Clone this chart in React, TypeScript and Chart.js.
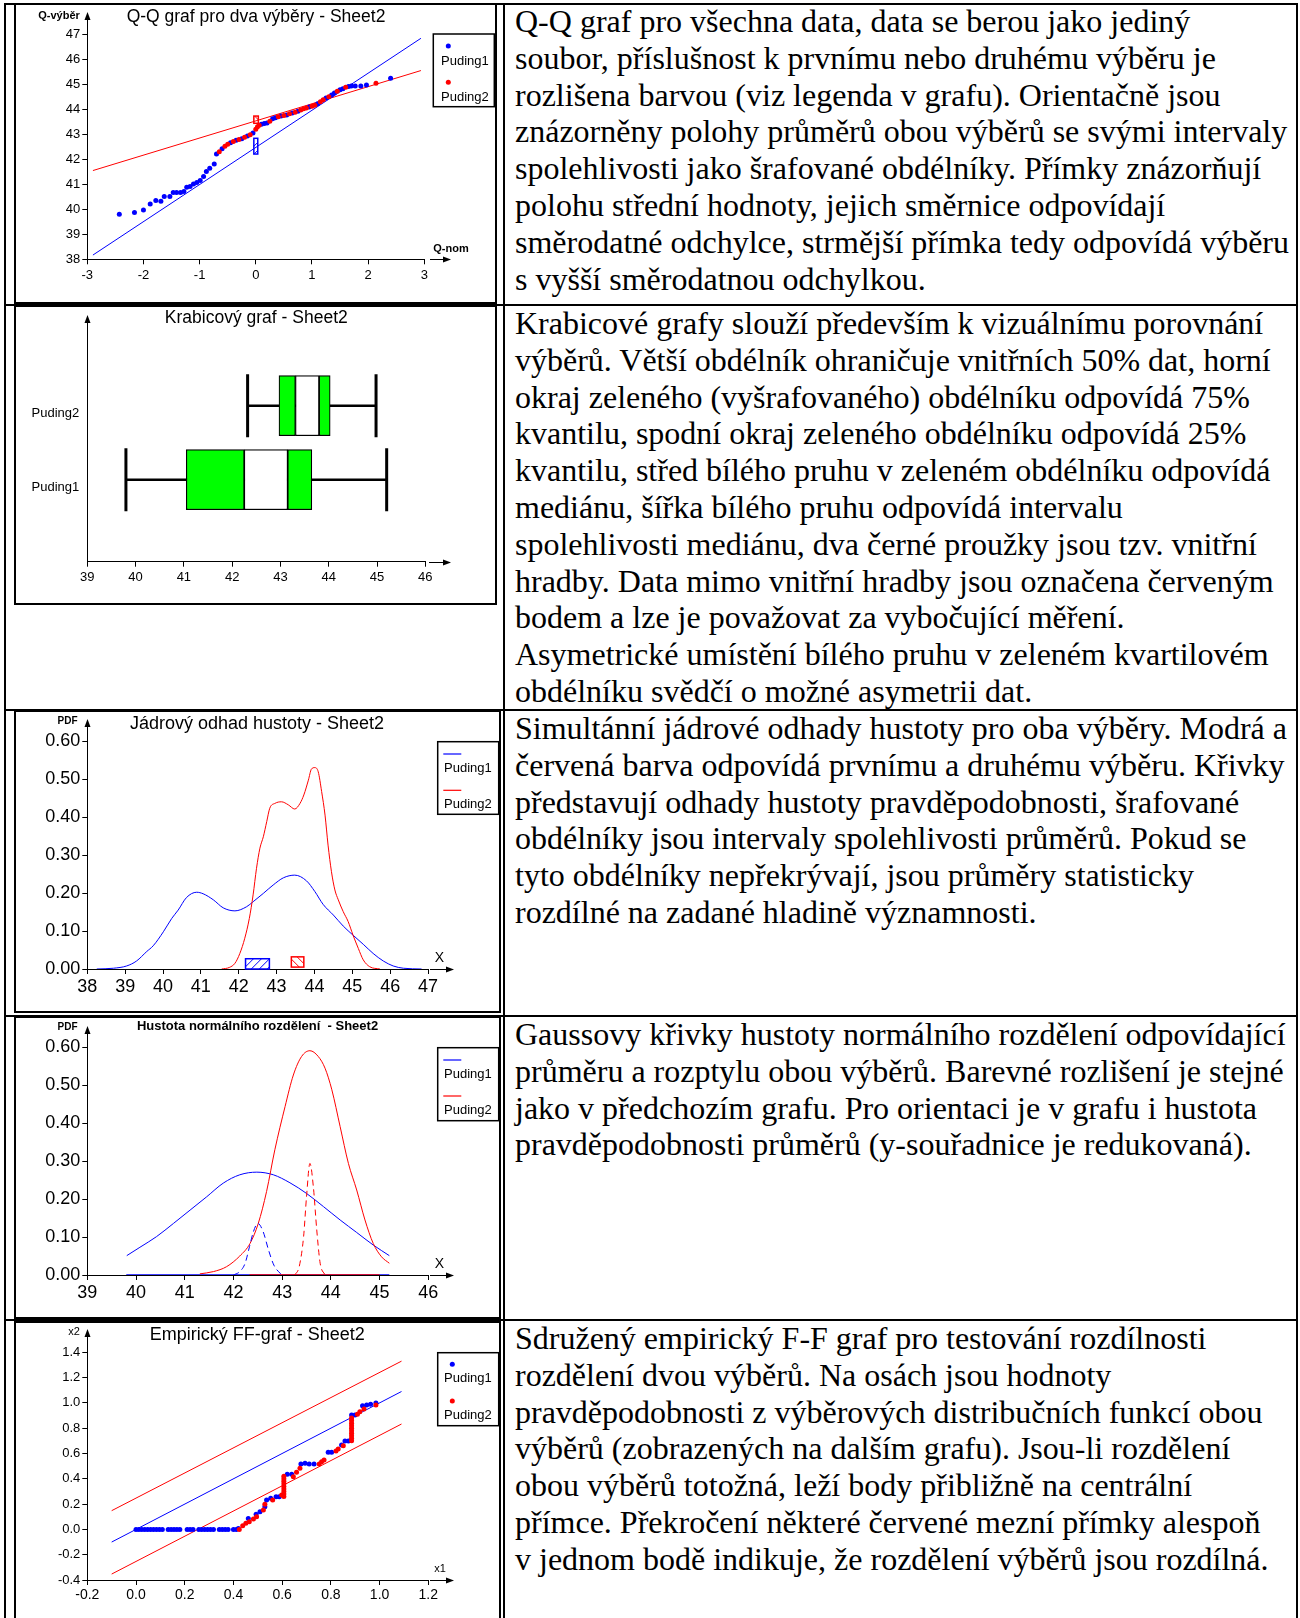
import React, { useEffect, useRef } from "react";
import { Chart, registerables } from "chart.js";

Chart.register(...registerables);

const SANS = "'Liberation Sans', Arial, Helvetica, sans-serif";
const SERIF = "'Liberation Serif', 'Times New Roman', Times, serif";
const BLUE = "#0000ff";
const RED = "#ff0000";
const GREEN = "#00ff00";

const seriesNames = ["Puding1", "Puding2"];

// ---------- Q-Q plot ----------
const qqNorm1 = [-2.43, -2.16, -2.0, -1.88, -1.78, -1.69, -1.63, -1.53, -1.47, -1.41, -1.34, -1.28, -1.23, -1.17, -1.11, -1.05, -0.99, -0.93, -0.88, -0.82, -0.74, -0.7, -0.6, -0.45, -0.35, -0.25, -0.15, -0.05, 0.1, 0.15, 0.2, 0.3, 0.35, 0.45, 0.55, 0.65, 0.75, 0.95, 1.1, 1.25, 1.35, 1.4, 1.5, 1.55, 1.65, 1.7, 1.77, 1.87, 1.97, 2.4];
const qqVal1 = [39.8, 39.87, 39.97, 40.21, 40.35, 40.32, 40.51, 40.51, 40.67, 40.67, 40.67, 40.71, 40.88, 40.91, 41.01, 41.07, 41.15, 41.31, 41.51, 41.64, 41.81, 42.21, 42.42, 42.66, 42.76, 42.82, 42.93, 43.05, 43.4, 43.43, 43.45, 43.62, 43.66, 43.73, 43.77, 43.85, 43.92, 44.09, 44.22, 44.45, 44.57, 44.65, 44.78, 44.82, 44.91, 44.93, 44.93, 44.93, 44.97, 45.24];
const qqNorm2 = [-0.65, -0.55, -0.5, -0.4, -0.3, -0.2, -0.1, 0.0, 0.03, 0.06, 0.25, 0.4, 0.5, 0.6, 0.7, 0.8, 0.85, 0.9, 1.0, 1.05, 1.15, 1.2, 1.3, 1.45, 1.6, 2.14];
const qqVal2 = [42.3, 42.52, 42.6, 42.71, 42.79, 42.88, 42.98, 43.2, 43.3, 43.36, 43.52, 43.7, 43.75, 43.82, 43.88, 43.97, 44.02, 44.05, 44.12, 44.16, 44.3, 44.38, 44.5, 44.72, 44.88, 45.04];
const qqLineX = [-2.9, 2.94];
const qqLine1Y = [38.17, 46.84];
const qqLine2Y = [41.55, 45.55];
const meanCI1 = [42.21, 42.84];
const meanCI2 = [43.44, 43.73];
const qqTicksX = [-3, 3];
const qqTicksY = [38, 47];

// ---------- Box plot ----------
const boxPos = [1, 2];
const whiskerLow = [39.8, 42.32];
const quart1 = [41.05, 42.97];
const medCILow = [42.25, 43.31];
const medCIHigh = [43.15, 43.8];
const quart3 = [43.65, 44.03];
const whiskerHigh = [45.2, 44.98];
const boxTicksX = [39, 46];

// ---------- Kernel density ----------
const kde1X = [38.25, 38.69, 39.04, 39.3, 39.57, 39.74, 40.01, 40.23, 40.4, 40.62, 40.89, 41.06, 41.33, 41.59, 41.9, 42.21, 42.38, 42.65, 42.91, 43.18, 43.48, 43.79, 44.01, 44.23, 44.5, 44.76, 45.02, 45.29, 45.55, 45.82, 46.08, 46.35, 46.83];
const kde1Y = [0, 0.002, 0.008, 0.021, 0.046, 0.061, 0.098, 0.133, 0.155, 0.188, 0.202, 0.198, 0.182, 0.161, 0.153, 0.164, 0.177, 0.199, 0.221, 0.24, 0.247, 0.232, 0.204, 0.17, 0.142, 0.113, 0.089, 0.065, 0.041, 0.021, 0.008, 0.002, 0];
const kde2X = [41.55, 41.75, 41.9, 42.03, 42.16, 42.28, 42.38, 42.47, 42.56, 42.65, 42.74, 42.82, 42.96, 43.13, 43.31, 43.48, 43.62, 43.72, 43.84, 43.92, 44.01, 44.1, 44.19, 44.28, 44.36, 44.45, 44.54, 44.63, 44.76, 44.89, 45.02, 45.16, 45.29, 45.46, 45.73];
const kde2Y = [0, 0.004, 0.015, 0.041, 0.081, 0.133, 0.195, 0.265, 0.318, 0.348, 0.388, 0.423, 0.436, 0.44, 0.432, 0.421, 0.436, 0.458, 0.497, 0.526, 0.53, 0.519, 0.467, 0.405, 0.326, 0.256, 0.208, 0.182, 0.151, 0.125, 0.089, 0.054, 0.024, 0.006, 0];
const kdeCI1 = [42.18, 42.81];
const kdeCI2 = [43.39, 43.72];
const kdeTicksX = [38, 47];
const pdfTicksY = [0, 0.6];

// ---------- Normal density ----------
const norm1X = [39.81, 40.08, 40.42, 40.77, 41.11, 41.45, 41.79, 42.13, 42.48, 42.82, 43.16, 43.5, 43.85, 44.19, 44.53, 44.87, 45.2];
const norm1Y = [0.051, 0.073, 0.101, 0.136, 0.171, 0.206, 0.242, 0.264, 0.271, 0.264, 0.243, 0.215, 0.18, 0.145, 0.112, 0.079, 0.051];
const norm2X = [41.31, 41.59, 41.86, 42.13, 42.34, 42.51, 42.68, 42.85, 43.06, 43.23, 43.4, 43.57, 43.74, 43.88, 44.02, 44.19, 44.36, 44.53, 44.7, 44.87, 45.04, 45.2];
const norm2Y = [0.003, 0.009, 0.022, 0.05, 0.083, 0.136, 0.22, 0.33, 0.444, 0.527, 0.576, 0.591, 0.576, 0.545, 0.488, 0.391, 0.294, 0.224, 0.145, 0.083, 0.048, 0.031];
const mean1X = [42.0, 42.13, 42.24, 42.33, 42.41, 42.5, 42.61, 42.72, 42.83, 42.99];
const mean1Y = [0, 0.009, 0.031, 0.075, 0.114, 0.136, 0.114, 0.066, 0.026, 0];
const mean2X = [43.26, 43.35, 43.44, 43.5, 43.57, 43.64, 43.71, 43.78, 43.88];
const mean2Y = [0, 0.022, 0.101, 0.206, 0.294, 0.233, 0.119, 0.031, 0];
const zero1X = [39.8, 45.2];
const zero2X = [42.33, 45.0];
const normTicksX = [39, 46];

// ---------- F-F plot ----------
const ff1X = [0, 0.012, 0.024, 0.036, 0.048, 0.06, 0.072, 0.084, 0.096, 0.108, 0.132, 0.144, 0.156, 0.168, 0.18, 0.21, 0.222, 0.234, 0.258, 0.27, 0.282, 0.294, 0.306, 0.318, 0.342, 0.354, 0.366, 0.378, 0.4, 0.412, 0.42, 0.461, 0.493, 0.509, 0.529, 0.536, 0.553, 0.575, 0.588, 0.621, 0.639, 0.677, 0.694, 0.711, 0.731, 0.789, 0.803, 0.844, 0.858, 0.872, 0.885, 0.899, 0.93, 0.947, 0.963, 0.985];
const ff1Y = [0, 0, 0, 0, 0, 0, 0, 0, 0, 0, 0, 0, 0, 0, 0, 0, 0, 0, 0, 0, 0, 0, 0, 0, 0, 0, 0, 0, 0, 0, 0.008, 0.087, 0.119, 0.14, 0.18, 0.232, 0.246, 0.259, 0.259, 0.435, 0.435, 0.517, 0.522, 0.517, 0.517, 0.609, 0.609, 0.667, 0.699, 0.699, 0.904, 0.904, 0.978, 0.984, 0.989, 1.0];
const ff2X = [0.424, 0.438, 0.451, 0.465, 0.482, 0.495, 0.523, 0.529, 0.561, 0.598, 0.607, 0.607, 0.607, 0.607, 0.607, 0.607, 0.607, 0.607, 0.607, 0.646, 0.659, 0.673, 0.752, 0.762, 0.772, 0.821, 0.83, 0.851, 0.885, 0.885, 0.885, 0.885, 0.885, 0.885, 0.885, 0.885, 0.885, 0.885, 0.909, 0.919, 0.936, 0.985];
const ff2Y = [0, 0.029, 0.048, 0.061, 0.082, 0.1, 0.153, 0.198, 0.232, 0.272, 0.26, 0.28, 0.3, 0.32, 0.34, 0.36, 0.38, 0.4, 0.42, 0.417, 0.451, 0.483, 0.517, 0.535, 0.549, 0.62, 0.636, 0.662, 0.7, 0.72, 0.74, 0.76, 0.78, 0.8, 0.82, 0.84, 0.86, 0.88, 0.91, 0.931, 0.952, 0.984];
const ffLineX = [-0.1, 1.09];
const ffCenterY = [-0.1, 1.09];
const ffUpperY = [0.148, 1.33];
const ffLowerY = [-0.353, 0.833];
const ffTicksX = [-0.2, 1.2];
const ffTicksY = [-0.4, 1.4];

// ---------- Texts ----------
const row1Lines = [
  "Q-Q graf pro všechna data, data se berou jako jediný",
  "soubor, příslušnost k prvnímu nebo druhému výběru je",
  "rozlišena barvou (viz legenda v grafu). Orientačně jsou",
  "znázorněny polohy průměrů obou výběrů se svými intervaly",
  "spolehlivosti jako šrafované obdélníky. Přímky znázorňují",
  "polohu střední hodnoty, jejich směrnice odpovídají",
  "směrodatné odchylce, strmější přímka tedy odpovídá výběru",
  "s vyšší směrodatnou odchylkou.",
];
const row2Lines = [
  "Krabicové grafy slouží především k vizuálnímu porovnání",
  "výběrů. Větší obdélník ohraničuje vnitřních 50% dat, horní",
  "okraj zeleného (vyšrafovaného) obdélníku odpovídá 75%",
  "kvantilu, spodní okraj zeleného obdélníku odpovídá 25%",
  "kvantilu, střed bílého pruhu v zeleném obdélníku odpovídá",
  "mediánu, šířka bílého pruhu odpovídá intervalu",
  "spolehlivosti mediánu, dva černé proužky jsou tzv. vnitřní",
  "hradby. Data mimo vnitřní hradby jsou označena červeným",
  "bodem a lze je považovat za vybočující měření.",
  "Asymetrické umístění bílého pruhu v zeleném kvartilovém",
  "obdélníku svědčí o možné asymetrii dat.",
];
const row3Lines = [
  "Simultánní jádrové odhady hustoty pro oba výběry. Modrá a",
  "červená barva odpovídá prvnímu a druhému výběru. Křivky",
  "představují odhady hustoty pravděpodobnosti, šrafované",
  "obdélníky jsou intervaly spolehlivosti průměrů. Pokud se",
  "tyto obdélníky nepřekrývají, jsou průměry statisticky",
  "rozdílné na zadané hladině významnosti.",
];
const row4Lines = [
  "Gaussovy křivky hustoty normálního rozdělení odpovídající",
  "průměru a rozptylu obou výběrů. Barevné rozlišení je stejné",
  "jako v předchozím grafu. Pro orientaci je v grafu i hustota",
  "pravděpodobnosti průměrů (y-souřadnice je redukovaná).",
];
const row5Lines = [
  "Sdružený empirický F-F graf pro testování rozdílnosti",
  "rozdělení dvou výběrů. Na osách jsou hodnoty",
  "pravděpodobnosti z výběrových distribučních funkcí obou",
  "výběrů (zobrazených na dalším grafu). Jsou-li rozdělení",
  "obou výběrů totožná, leží body přibližně na centrální",
  "přímce. Překročení některé červené mezní přímky alespoň",
  "v jednom bodě indikuje, že rozdělení výběrů jsou rozdílná.",
];

// ---------- helpers ----------
type Frame = { x: number; y: number; w: number; h: number };
type Area = { l: number; r: number; t: number; b: number };
type LegendItem = { kind: "dot" | "line"; color: string; mx: number; my: number; label: string; tx: number; ty: number };
type Spec = {
  title: { text: string; x: number; y: number; font: string };
  labels: { text: string; x: number; y: number; font: string }[];
  yTip: number;
  xArrow: [number, number];
  legend?: { box: [number, number, number, number]; items: LegendItem[] };
  hatches?: { x0: number; x1: number; y0: number; y1: number; color: string; dir: number }[];
};

const pts = (xs: number[], ys: number[]) => xs.map((x, i) => ({ x, y: ys[i] }));
const fix = (d: number) => (v: number) => (Math.abs(v) < 1e-9 ? 0 : v).toFixed(d);

function geom(frame: Frame, area: Area) {
  const ox = frame.x + 2;
  const oy = frame.y + 2;
  const cw = frame.w - 4;
  const ch = frame.h - 4;
  return {
    ox, oy, cw, ch,
    padding: { left: 0, top: area.t - oy, right: cw - (area.r - ox), bottom: 0 },
    yW: area.l - ox,
    xH: ch - (area.b - oy),
  };
}

function axis(min: number, max: number, o: { step?: number; size: number; pad: number; fmt?: (v: number) => string; fit: (s: any) => void }) {
  const ticks: any = { autoSkip: false, maxRotation: 0, minRotation: 0, color: "#000", font: { family: SANS, size: o.size }, padding: o.pad };
  if (o.step !== undefined) ticks.stepSize = o.step;
  if (o.fmt) {
    const f = o.fmt;
    ticks.callback = (v: any) => f(Number(v));
  }
  return {
    type: "linear",
    min,
    max,
    offset: false,
    ticks,
    grid: { display: true, drawOnChartArea: false, drawTicks: true, tickLength: 5, color: "#000", lineWidth: 1, offset: false },
    border: { display: true, color: "#000", width: 1 },
    afterFit: o.fit,
  };
}

function overlay(spec: Spec, ox: number, oy: number) {
  return {
    id: "overlay",
    afterDatasetsDraw(chart: any) {
      if (!spec.hatches) return;
      const ctx: CanvasRenderingContext2D = chart.ctx;
      const xs = chart.scales.x;
      const ys = chart.scales.y;
      for (const h of spec.hatches) {
        const x0 = xs.getPixelForValue(h.x0);
        const x1 = xs.getPixelForValue(h.x1);
        const y0 = ys.getPixelForValue(h.y1);
        const y1 = ys.getPixelForValue(h.y0);
        ctx.save();
        ctx.strokeStyle = h.color;
        ctx.lineWidth = 1.5;
        ctx.strokeRect(x0, y0, x1 - x0, y1 - y0);
        ctx.beginPath();
        ctx.rect(x0, y0, x1 - x0, y1 - y0);
        ctx.clip();
        ctx.lineWidth = 1;
        ctx.beginPath();
        const hgt = y1 - y0;
        for (let s = x0 - hgt; s < x1 + hgt; s += 8) {
          if (h.dir > 0) {
            ctx.moveTo(s, y1);
            ctx.lineTo(s + hgt, y0);
          } else {
            ctx.moveTo(s, y0);
            ctx.lineTo(s + hgt, y1);
          }
        }
        ctx.stroke();
        ctx.restore();
      }
    },
    afterDraw(chart: any) {
      const ctx: CanvasRenderingContext2D = chart.ctx;
      const ca = chart.chartArea;
      ctx.save();
      ctx.fillStyle = "#000";
      ctx.strokeStyle = "#000";
      ctx.lineWidth = 1;
      // y arrow
      const ax = Math.round(ca.left) + 0.5;
      const tip = spec.yTip - oy;
      ctx.beginPath();
      ctx.moveTo(ax, ca.top);
      ctx.lineTo(ax, tip + 3);
      ctx.stroke();
      ctx.beginPath();
      ctx.moveTo(ax, tip);
      ctx.lineTo(ax - 3, tip + 8);
      ctx.lineTo(ax + 3, tip + 8);
      ctx.closePath();
      ctx.fill();
      // x arrow
      const ay = Math.round(ca.bottom) + 0.5;
      const xa = spec.xArrow[0] - ox;
      const xb = spec.xArrow[1] - ox;
      ctx.beginPath();
      ctx.moveTo(xa, ay);
      ctx.lineTo(xb - 3, ay);
      ctx.stroke();
      ctx.beginPath();
      ctx.moveTo(xb, ay);
      ctx.lineTo(xb - 8, ay - 3);
      ctx.lineTo(xb - 8, ay + 3);
      ctx.closePath();
      ctx.fill();
      // title & labels
      ctx.textAlign = "center";
      ctx.textBaseline = "middle";
      ctx.font = spec.title.font;
      ctx.fillText(spec.title.text, spec.title.x - ox, spec.title.y - oy);
      for (const l of spec.labels) {
        ctx.font = l.font;
        ctx.fillText(l.text, l.x - ox, l.y - oy);
      }
      // legend
      if (spec.legend) {
        const [bx, by, bw, bh] = spec.legend.box;
        ctx.lineWidth = 1.5;
        ctx.strokeStyle = "#000";
        ctx.strokeRect(bx - ox, by - oy, bw, bh);
        ctx.textAlign = "left";
        ctx.font = `13px ${SANS}`;
        for (const it of spec.legend.items) {
          if (it.kind === "dot") {
            ctx.fillStyle = it.color;
            ctx.beginPath();
            ctx.arc(it.mx - ox, it.my - oy, 2.5, 0, Math.PI * 2);
            ctx.fill();
          } else {
            ctx.strokeStyle = it.color;
            ctx.lineWidth = 1.2;
            ctx.beginPath();
            ctx.moveTo(it.mx - ox, it.my - oy);
            ctx.lineTo(it.mx - ox + 18, it.my - oy);
            ctx.stroke();
          }
          ctx.fillStyle = "#000";
          ctx.fillText(it.label, it.tx - ox, it.ty - oy);
        }
      }
      ctx.restore();
    },
  };
}

function ChartBox({ frame, build }: { frame: Frame; build: () => any }) {
  const ref = useRef<HTMLCanvasElement>(null);
  const cw = frame.w - 4;
  const ch = frame.h - 4;
  useEffect(() => {
    if (!ref.current) return;
    const chart = new Chart(ref.current, build());
    return () => chart.destroy();
  }, []);
  return (
    <div
      style={{
        position: "absolute",
        left: frame.x,
        top: frame.y,
        width: cw,
        height: ch,
        border: "2px solid #000",
        background: "#fff",
      }}
    >
      <canvas ref={ref} width={cw} height={ch} style={{ display: "block", width: cw, height: ch }} />
    </div>
  );
}

const commonOpts = (g: ReturnType<typeof geom>) => ({
  responsive: false,
  animation: false,
  devicePixelRatio: 1,
  events: [],
  layout: { padding: g.padding },
  plugins: { legend: { display: false }, title: { display: false }, tooltip: { enabled: false } },
});

const lineDs = (data: any[], color: string, extra: any = {}) => ({
  data,
  showLine: true,
  borderColor: color,
  backgroundColor: color,
  borderWidth: 1,
  pointRadius: 0,
  ...extra,
});

const dotDs = (data: any[], color: string, extra: any = {}) => ({
  data,
  showLine: false,
  borderColor: color,
  backgroundColor: color,
  pointRadius: 2.5,
  pointBorderWidth: 0,
  ...extra,
});

// ---------- frames & areas ----------
const F1: Frame = { x: 14, y: 3, w: 483, h: 301 };
const A1: Area = { l: 87.3, r: 424.3, t: 34.3, b: 259.3 };
const F2: Frame = { x: 14, y: 305, w: 483, h: 300 };
const A2: Area = { l: 87.3, r: 425.3, t: 337, b: 561.7 };
const F3: Frame = { x: 14, y: 710, w: 487, h: 303 };
const A3: Area = { l: 87.3, r: 428, t: 741, b: 969 };
const F4: Frame = { x: 14, y: 1016, w: 487, h: 303 };
const A4: Area = { l: 87.3, r: 428.3, t: 1047.3, b: 1275 };
const F5: Frame = { x: 14, y: 1321, w: 487, h: 303 };
const A5: Area = { l: 87.3, r: 428.3, t: 1352.3, b: 1580 };

function buildQQ() {
  const g = geom(F1, A1);
  const spec: Spec = {
    title: { text: "Q-Q graf pro dva výběry - Sheet2", x: 256, y: 17, font: `17.5px ${SANS}` },
    labels: [
      { text: "Q-výběr", x: 59, y: 15.5, font: `bold 11px ${SANS}` },
      { text: "Q-nom", x: 451, y: 249, font: `bold 11px ${SANS}` },
    ],
    yTip: 12,
    xArrow: [430, 451],
    legend: {
      box: [433.3, 34, 61, 72.7],
      items: [
        { kind: "dot", color: BLUE, mx: 448.3, my: 46, label: seriesNames[0], tx: 441, ty: 61 },
        { kind: "dot", color: RED, mx: 448.3, my: 82.3, label: seriesNames[1], tx: 441, ty: 97 },
      ],
    },
    hatches: [
      { x0: -0.035, x1: 0.035, y0: meanCI1[0], y1: meanCI1[1], color: BLUE, dir: 1 },
      { x0: -0.035, x1: 0.045, y0: meanCI2[0], y1: meanCI2[1], color: RED, dir: -1 },
    ],
  };
  return {
    type: "scatter",
    data: {
      datasets: [
        dotDs(pts(qqNorm2, qqVal2), RED, { order: 0 }),
        dotDs(pts(qqNorm1, qqVal1), BLUE, { order: 1 }),
        lineDs(pts(qqLineX, qqLine1Y), BLUE, { order: 2 }),
        lineDs(pts(qqLineX, qqLine2Y), RED, { order: 2 }),
      ],
    },
    options: {
      ...commonOpts(g),
      scales: {
        x: axis(qqTicksX[0], qqTicksX[1], { step: 1, size: 13, pad: 3, fit: (s) => { s.height = g.xH; } }),
        y: axis(qqTicksY[0], qqTicksY[1], { step: 1, size: 13, pad: 2, fit: (s) => { s.width = g.yW; } }),
      },
    },
    plugins: [overlay(spec, g.ox, g.oy)],
  };
}

function buildBox() {
  const g = geom(F2, A2);
  const spec: Spec = {
    title: { text: "Krabicový graf - Sheet2", x: 256.3, y: 318.3, font: `17.5px ${SANS}` },
    labels: [],
    yTip: 315,
    xArrow: [429, 451],
  };
  const barDs = (lo: number[], hi: number[], color: string) => ({
    type: "bar",
    data: boxPos.map((p, i) => ({ y: p, x: [lo[i], hi[i]] })),
    backgroundColor: color,
    borderColor: "#000",
    borderWidth: 1.2,
    borderSkipped: false,
    grouped: false,
    barThickness: 60,
    order: 0,
  });
  const whiskers = boxPos.map((p, i) => ({
    type: "line",
    data: [{ x: whiskerLow[i], y: p }, { x: whiskerHigh[i], y: p }],
    borderColor: "#000",
    borderWidth: 2.5,
    pointRadius: 0,
    order: 1,
  }));
  const caps = {
    type: "scatter",
    data: boxPos.flatMap((p, i) => [{ x: whiskerLow[i], y: p }, { x: whiskerHigh[i], y: p }]),
    showLine: false,
    pointStyle: "line",
    pointRadius: 31.5,
    pointRotation: 90,
    pointBorderWidth: 3,
    pointBorderColor: "#000",
    borderColor: "#000",
    order: 1,
  };
  const yAxis: any = axis(-0.109, 2.868, {
    size: 13,
    pad: 8,
    fmt: (v) => seriesNames[boxPos.indexOf(v)] ?? "",
    fit: (s) => { s.width = g.yW; },
  });
  yAxis.grid = { display: false, drawTicks: false, drawOnChartArea: false };
  yAxis.ticks.labelOffset = 7.5;
  yAxis.afterBuildTicks = (s: any) => { s.ticks = boxPos.map((v) => ({ value: v })); };
  return {
    type: "bar",
    data: {
      datasets: [
        barDs(quart1, medCILow, GREEN),
        barDs(medCILow, medCIHigh, "#ffffff"),
        barDs(medCIHigh, quart3, GREEN),
        ...whiskers,
        caps,
      ],
    },
    options: {
      ...commonOpts(g),
      indexAxis: "y",
      scales: {
        x: axis(boxTicksX[0], boxTicksX[1], { step: 1, size: 13, pad: 3, fit: (s) => { s.height = g.xH; } }),
        y: yAxis,
      },
    },
    plugins: [overlay(spec, g.ox, g.oy)],
  };
}

function buildKDE() {
  const g = geom(F3, A3);
  const spec: Spec = {
    title: { text: "Jádrový odhad hustoty - Sheet2", x: 257, y: 724.3, font: `18px ${SANS}` },
    labels: [
      { text: "PDF", x: 67.5, y: 721.7, font: `bold 10px ${SANS}` },
      { text: "X", x: 439.3, y: 958.3, font: `14px ${SANS}` },
    ],
    yTip: 719,
    xArrow: [430, 454],
    legend: {
      box: [437.7, 741.7, 61, 72.6],
      items: [
        { kind: "line", color: BLUE, mx: 443.3, my: 754, label: seriesNames[0], tx: 444, ty: 768.3 },
        { kind: "line", color: RED, mx: 443.3, my: 790.3, label: seriesNames[1], tx: 444, ty: 804.3 },
      ],
    },
    hatches: [
      { x0: kdeCI1[0], x1: kdeCI1[1], y0: 0, y1: 0.027, color: BLUE, dir: 1 },
      { x0: kdeCI2[0], x1: kdeCI2[1], y0: 0.005, y1: 0.032, color: RED, dir: -1 },
    ],
  };
  return {
    type: "scatter",
    data: {
      datasets: [
        lineDs(pts(kde2X, kde2Y), RED, { cubicInterpolationMode: "monotone", order: 0 }),
        lineDs(pts(kde1X, kde1Y), BLUE, { cubicInterpolationMode: "monotone", order: 1 }),
      ],
    },
    options: {
      ...commonOpts(g),
      scales: {
        x: axis(kdeTicksX[0], kdeTicksX[1], { step: 1, size: 18, pad: 2, fit: (s) => { s.height = g.xH; } }),
        y: axis(pdfTicksY[0], pdfTicksY[1], { step: 0.1, size: 18, pad: 2, fmt: fix(2), fit: (s) => { s.width = g.yW; } }),
      },
    },
    plugins: [overlay(spec, g.ox, g.oy)],
  };
}

function buildNorm() {
  const g = geom(F4, A4);
  const spec: Spec = {
    title: { text: "Hustota normálního rozdělení  - Sheet2", x: 257.5, y: 1026.7, font: `bold 13px ${SANS}` },
    labels: [
      { text: "PDF", x: 67.5, y: 1027.3, font: `bold 10px ${SANS}` },
      { text: "X", x: 439.3, y: 1264, font: `14px ${SANS}` },
    ],
    yTip: 1026,
    xArrow: [430, 454],
    legend: {
      box: [437.7, 1047.7, 61, 73],
      items: [
        { kind: "line", color: BLUE, mx: 443.3, my: 1060, label: seriesNames[0], tx: 444, ty: 1074 },
        { kind: "line", color: RED, mx: 443.3, my: 1096, label: seriesNames[1], tx: 444, ty: 1110 },
      ],
    },
  };
  return {
    type: "scatter",
    data: {
      datasets: [
        lineDs(pts(mean2X, mean2Y), RED, { borderDash: [6, 4], cubicInterpolationMode: "monotone", order: 0 }),
        lineDs(pts(mean1X, mean1Y), BLUE, { borderDash: [6, 4], cubicInterpolationMode: "monotone", order: 0 }),
        lineDs(pts(norm2X, norm2Y), RED, { cubicInterpolationMode: "monotone", order: 1 }),
        lineDs(pts(norm1X, norm1Y), BLUE, { cubicInterpolationMode: "monotone", order: 2 }),
        lineDs(pts(zero2X, [0, 0]), RED, { order: 3, borderWidth: 1.5 }),
        lineDs(pts(zero1X, [0, 0]), BLUE, { order: 4, borderWidth: 1.5 }),
      ],
    },
    options: {
      ...commonOpts(g),
      scales: {
        x: axis(normTicksX[0], normTicksX[1], { step: 1, size: 18, pad: 2, fit: (s) => { s.height = g.xH; } }),
        y: axis(pdfTicksY[0], pdfTicksY[1], { step: 0.1, size: 18, pad: 2, fmt: fix(2), fit: (s) => { s.width = g.yW; } }),
      },
    },
    plugins: [overlay(spec, g.ox, g.oy)],
  };
}

function buildFF() {
  const g = geom(F5, A5);
  const spec: Spec = {
    title: { text: "Empirický FF-graf - Sheet2", x: 257.2, y: 1335, font: `18px ${SANS}` },
    labels: [
      { text: "x2", x: 74, y: 1332.3, font: `11px ${SANS}` },
      { text: "x1", x: 440, y: 1569, font: `11px ${SANS}` },
    ],
    yTip: 1329,
    xArrow: [430, 454],
    legend: {
      box: [437.7, 1352.7, 61, 73],
      items: [
        { kind: "dot", color: BLUE, mx: 452.3, my: 1364.3, label: seriesNames[0], tx: 444, ty: 1378.3 },
        { kind: "dot", color: RED, mx: 452.3, my: 1401, label: seriesNames[1], tx: 444, ty: 1415 },
      ],
    },
  };
  return {
    type: "scatter",
    data: {
      datasets: [
        dotDs(pts(ff2X, ff2Y), RED, { order: 0 }),
        dotDs(pts(ff1X, ff1Y), BLUE, { order: 1 }),
        lineDs(pts(ffLineX, ffCenterY), BLUE, { order: 2 }),
        lineDs(pts(ffLineX, ffUpperY), RED, { order: 2 }),
        lineDs(pts(ffLineX, ffLowerY), RED, { order: 2 }),
      ],
    },
    options: {
      ...commonOpts(g),
      scales: {
        x: axis(ffTicksX[0], ffTicksX[1], { step: 0.2, size: 14, pad: 2, fmt: fix(1), fit: (s) => { s.height = g.xH; } }),
        y: axis(ffTicksY[0], ffTicksY[1], { step: 0.2, size: 13, pad: 2, fmt: fix(1), fit: (s) => { s.width = g.yW; } }),
      },
    },
    plugins: [overlay(spec, g.ox, g.oy)],
  };
}

const textRows = [
  { top: 3, lines: row1Lines },
  { top: 305, lines: row2Lines },
  { top: 710, lines: row3Lines },
  { top: 1016, lines: row4Lines },
  { top: 1320, lines: row5Lines },
];

const hLines = [3, 304, 709, 1015, 1319];

export default function App() {
  return (
    <div style={{ position: "absolute", left: 0, top: 0, width: 1300, height: 1618, overflow: "hidden", background: "#fff" }}>
      <ChartBox frame={F1} build={buildQQ} />
      <ChartBox frame={F2} build={buildBox} />
      <ChartBox frame={F3} build={buildKDE} />
      <ChartBox frame={F4} build={buildNorm} />
      <ChartBox frame={F5} build={buildFF} />
      {textRows.map((r, i) => (
        <div
          key={i}
          style={{
            position: "absolute",
            left: 515,
            top: r.top,
            fontFamily: SERIF,
            fontSize: 32,
            lineHeight: "36.8px",
            color: "#000",
            whiteSpace: "pre",
          }}
        >
          {r.lines.map((l, j) => (
            <div key={j}>{l}</div>
          ))}
        </div>
      ))}
      {hLines.map((y, i) => (
        <div key={"h" + i} style={{ position: "absolute", left: 4, top: y, width: 1294, height: 2, background: "#000" }} />
      ))}
      <div style={{ position: "absolute", left: 4, top: 3, width: 2, height: 1615, background: "#000" }} />
      <div style={{ position: "absolute", left: 503, top: 3, width: 2, height: 1615, background: "#000" }} />
      <div style={{ position: "absolute", left: 1296, top: 3, width: 2, height: 1615, background: "#000" }} />
    </div>
  );
}
